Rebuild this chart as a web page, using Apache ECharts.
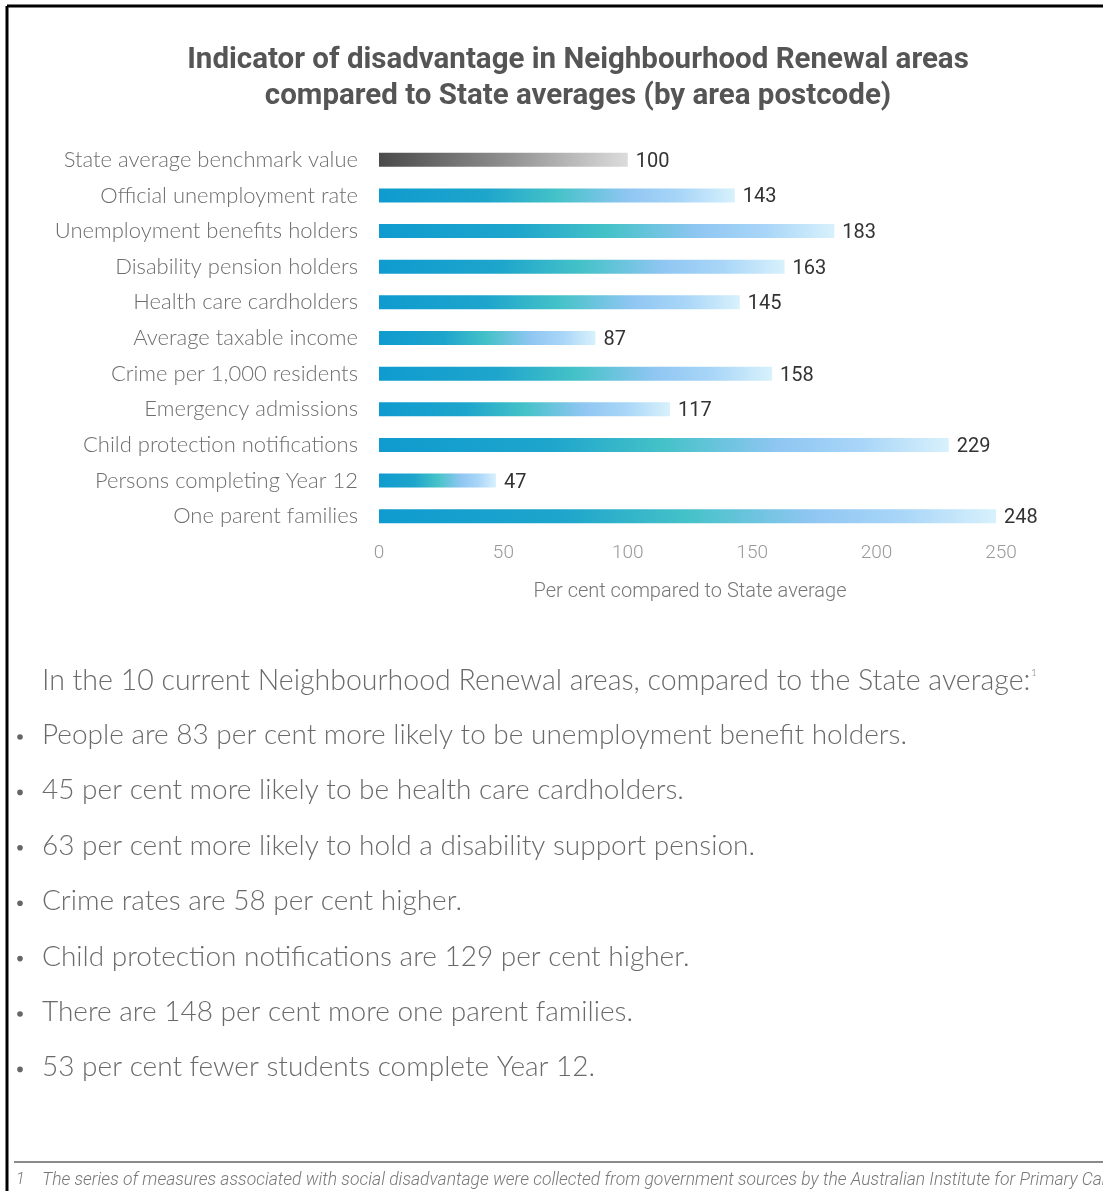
<!DOCTYPE html>
<html>
<head>
<meta charset="utf-8">
<script src="https://cdn.jsdelivr.net/npm/echarts@6/dist/echarts.min.js"></script>
<style>
html,body{margin:0;padding:0;background:#fff;}
#c{width:1103px;height:1191px;}
</style>
</head>
<body>
<div id="c"></div>
<script>
var categories = [
  'State average benchmark value',
  'Official unemployment rate',
  'Unemployment benefits holders',
  'Disability pension holders',
  'Health care cardholders',
  'Average taxable income',
  'Crime per 1,000 residents',
  'Emergency admissions',
  'Child protection notifications',
  'Persons completing Year 12',
  'One parent families'
];
var values = [100, 143, 183, 163, 145, 87, 158, 117, 229, 47, 248];
var xTicks = [0, 50, 100, 150, 200, 250];
var titleText = 'Indicator of disadvantage in Neighbourhood Renewal areas\ncompared to State averages (by area postcode)';
var xAxisName = 'Per cent compared to State average';
var introText = 'In the 10 current Neighbourhood Renewal areas, compared to the State average:';
var bullets = [
  'People are 83 per cent more likely to be unemployment benefit holders.',
  '45 per cent more likely to be health care cardholders.',
  '63 per cent more likely to hold a disability support pension.',
  'Crime rates are 58 per cent higher.',
  'Child protection notifications are 129 per cent higher.',
  'There are 148 per cent more one parent families.',
  '53 per cent fewer students complete Year 12.'
];
var footnote = 'The series of measures associated with social disadvantage were collected from government sources by the Australian Institute for Primary Care';

var blueGrad = new echarts.graphic.LinearGradient(0, 0, 1, 0, [
  {offset: 0, color: '#0f9bcf'},
  {offset: 0.3, color: '#1ea5cc'},
  {offset: 0.5, color: '#45c2c8'},
  {offset: 0.7, color: '#8fc6f2'},
  {offset: 0.85, color: '#a9d6f8'},
  {offset: 1, color: '#d8f1fc'}
]);
var greyGrad = new echarts.graphic.LinearGradient(0, 0, 1, 0, [
  {offset: 0, color: '#4a4a4a'},
  {offset: 0.5, color: '#8e8e8e'},
  {offset: 1, color: '#dcdcdc'}
]);

var chart = echarts.init(document.getElementById('c'), null, {renderer: 'canvas', width: 1103, height: 1191});

var graphics = [
  {type: 'line', shape: {x1: 7, y1: 6, x2: 1103, y2: 6}, style: {stroke: '#000', lineWidth: 3}},
  {type: 'line', shape: {x1: 7, y1: 6, x2: 7, y2: 1191}, style: {stroke: '#000', lineWidth: 3}},
  {type: 'line', shape: {x1: 14, y1: 1162, x2: 1103, y2: 1162}, style: {stroke: '#8a8a8a', lineWidth: 2}},
  {type: 'text', left: 42, top: 666, style: {text: introText, font: '300 28.5px Lato', fill: '#6a6a6a'}}
];
bullets.forEach(function (b, i) {
  var y = 736 + i * 55.4;
  graphics.push({type: 'circle', shape: {cx: 20, cy: y + 1, r: 2.8}, style: {fill: '#666'}});
  graphics.push({type: 'text', left: 42, top: y - 15, style: {text: b, font: '300 28px Lato', fill: '#6a6a6a'}});
});
graphics.push({type: 'text', left: 1031, top: 668, style: {text: '1', font: '300 10px Lato', fill: '#777'}});
graphics.push({type: 'text', left: 16, top: 1172, style: {text: '1', font: 'italic 300 16px Roboto', fill: '#777'}});
graphics.push({type: 'text', left: 42, top: 1172, style: {text: footnote, font: 'italic 300 17.5px Roboto', fill: '#777'}});

chart.setOption({
  backgroundColor: '#fff',
  animation: false,
  title: {
    text: titleText,
    left: 573,
    textAlign: 'center',
    top: 38,
    textStyle: {fontFamily: 'Roboto', fontWeight: 'bold', fontSize: 29.5, color: '#555', lineHeight: 36}
  },
  grid: {left: 379, width: 622, top: 142, height: 392, containLabel: false},
  xAxis: {
    type: 'value',
    min: 0, max: 250, interval: 50,
    axisLine: {show: false},
    axisTick: {show: false},
    splitLine: {show: false},
    axisLabel: {color: '#999', fontSize: 19, fontFamily: 'Roboto', fontWeight: 300, margin: 10,
      formatter: function (v) { return xTicks.indexOf(v) >= 0 ? String(v) : ''; }},
    name: xAxisName,
    nameLocation: 'middle',
    nameGap: 48,
    nameTextStyle: {color: '#777', fontSize: 20, fontFamily: 'Roboto', fontWeight: 300}
  },
  yAxis: {
    type: 'category',
    data: categories,
    inverse: true,
    axisLine: {show: false},
    axisTick: {show: false},
    axisLabel: {color: '#6e6e6e', fontSize: 22, fontFamily: 'Lato', fontWeight: 300, margin: 21}
  },
  series: [{
    type: 'bar',
    data: values.map(function (v, i) {
      return {value: v, itemStyle: {color: i === 0 ? greyGrad : blueGrad}};
    }),
    barWidth: 14,
    label: {show: true, position: 'right', distance: 8, offset: [0, 2], color: '#333', fontSize: 20, fontFamily: 'Roboto'}
  }],
  graphic: graphics
});
</script>
</body>
</html>
